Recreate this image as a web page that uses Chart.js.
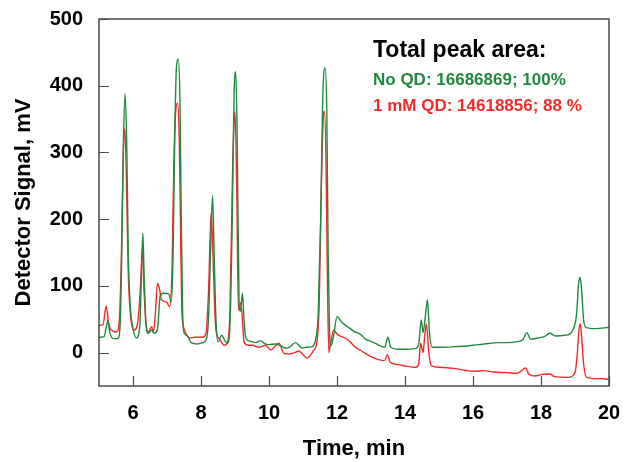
<!DOCTYPE html>
<html>
<head>
<meta charset="utf-8">
<script src="https://cdn.jsdelivr.net/npm/chart.js@4"></script>
<style>
  html, body { margin: 0; padding: 0; background: #fff; }
  #chart { display: block; }
</style>
</head>
<body>
<canvas id="chart" width="624" height="462"></canvas>
<script>
const noQdTime = [5.0, 5.15, 5.22, 5.26, 5.32, 5.42, 5.55, 5.62, 5.67, 5.72, 5.77, 5.82, 5.86, 5.92, 6.0, 6.1, 6.2, 6.25, 6.29, 6.33, 6.38, 6.45, 6.55, 6.62, 6.72, 6.8, 6.9, 7.05, 7.13, 7.18, 7.23, 7.28, 7.33, 7.38, 7.42, 7.46, 7.5, 7.6, 7.71, 7.9, 8.05, 8.15, 8.22, 8.28, 8.34, 8.39, 8.44, 8.5, 8.61, 8.7, 8.78, 8.85, 8.92, 8.97, 9.02, 9.06, 9.12, 9.16, 9.22, 9.27, 9.32, 9.45, 9.61, 9.75, 9.86, 10.0, 10.2, 10.35, 10.49, 10.6, 10.78, 10.97, 11.1, 11.27, 11.38, 11.45, 11.52, 11.58, 11.65, 11.7, 11.74, 11.78, 11.82, 11.9, 12.0, 12.15, 12.33, 12.5, 12.7, 12.85, 13.0, 13.2, 13.4, 13.5, 13.58, 13.8, 14.0, 14.3, 14.4, 14.48, 14.53, 14.6, 14.66, 14.72, 14.8, 15.0, 15.5, 15.84, 16.0, 16.33, 16.75, 17.0, 17.3, 17.48, 17.58, 17.7, 17.9, 18.1, 18.26, 18.42, 18.7, 18.95, 19.05, 19.1, 19.15, 19.2, 19.25, 19.32, 19.6, 20.0];
const noQdSignal = [23, 24, 40, 48, 30, 21, 21, 40, 150, 320, 388, 300, 150, 70, 36, 22, 40, 120, 179, 110, 45, 29, 34, 29, 35, 85, 89, 88, 76, 150, 330, 430, 440, 380, 200, 60, 30, 25, 15, 13, 15, 19, 50, 150, 236, 140, 50, 16, 26, 18, 14, 40, 200, 380, 421, 340, 75, 62, 89, 45, 22, 17, 15, 18, 14, 12, 13, 10, 7, 8, 15, 7, 8, 9, 22, 60, 200, 380, 427, 360, 150, 30, 10, 25, 54, 45, 38, 32, 27, 20, 17, 12, 8, 23, 8, 5, 5, 6, 12, 49, 30, 55, 79, 30, 8, 8, 9, 10, 11, 13, 15, 15, 16.5, 20, 30, 20, 22, 24, 29, 25, 26, 35, 60, 100, 113, 90, 50, 38, 36, 38];

const qdTime = [5.0, 5.12, 5.21, 5.28, 5.33, 5.52, 5.6, 5.66, 5.71, 5.76, 5.81, 5.86, 5.92, 6.04, 6.15, 6.22, 6.28, 6.32, 6.38, 6.45, 6.55, 6.6, 6.66, 6.72, 6.78, 6.84, 6.98, 7.08, 7.15, 7.2, 7.26, 7.31, 7.36, 7.4, 7.44, 7.5, 7.6, 7.66, 7.82, 8.05, 8.15, 8.22, 8.3, 8.35, 8.4, 8.44, 8.55, 8.69, 8.78, 8.85, 8.92, 8.97, 9.0, 9.05, 9.1, 9.15, 9.2, 9.27, 9.4, 9.51, 9.7, 9.9, 10.05, 10.29, 10.44, 10.63, 10.88, 11.12, 11.32, 11.41, 11.48, 11.54, 11.6, 11.63, 11.68, 11.72, 11.76, 11.8, 11.9, 12.0, 12.33, 12.5, 12.8, 13.0, 13.2, 13.4, 13.48, 13.56, 13.8, 14.0, 14.3, 14.4, 14.46, 14.53, 14.58, 14.63, 14.7, 14.78, 15.0, 15.5, 16.0, 16.3, 16.6, 17.0, 17.3, 17.55, 17.65, 17.84, 18.0, 18.26, 18.4, 18.8, 19.0, 19.07, 19.12, 19.16, 19.2, 19.26, 19.35, 19.7, 20.0];
const qdSignal = [41, 42, 70, 45, 36, 31, 50, 150, 290, 336, 250, 120, 60, 34, 49, 100, 158, 100, 45, 31, 39, 31, 60, 104, 95, 79, 76, 69, 130, 280, 365, 374, 320, 180, 60, 36, 25, 22, 23, 23, 30, 90, 210, 150, 70, 34, 20, 11, 16, 60, 250, 345, 361, 250, 64, 75, 62, 15, 11, 11, 8, 11, 4, 14, -1, -2, 2, -8, 4, 16, 80, 250, 355, 362, 280, 100, 0, 10, 34, 28, 19, 10, 0, -6, -10, -12, -3, -14, -18, -20, -22, -18, 14, 0, 25, 43, 0, -20, -22, -24, -28, -27, -29, -30, -31, -23, -33, -35, -33, -32, -36, -37, -30, 0, 35, 43, 20, -20, -37, -39, -40];

const xTicks = [6, 8, 10, 12, 14, 16, 18, 20];
const yTicks = [0, 100, 200, 300, 400, 500];

const legendTitle = 'Total peak area:';
const legendLines = ['No QD: 16686869; 100%', '1 mM QD: 14618856; 88 %'];

const green = '#1f8a3f';
const red = '#f42a2a';
const fontFamily = 'Liberation Sans, Arial, sans-serif';

const toPoints = (xs, ys) => xs.map((x, i) => ({ x: x, y: ys[i] }));

const framePlugin = {
  id: 'frame',
  afterDraw(chart) {
    const { ctx, chartArea: a, scales } = chart;
    ctx.save();
    ctx.strokeStyle = '#4a4a4a';
    ctx.lineWidth = 1.5;
    ctx.strokeRect(a.left, a.top, a.right - a.left, a.bottom - a.top);
    ctx.lineWidth = 1.2;
    ctx.beginPath();
    xTicks.forEach(v => {
      const px = Math.round(scales.x.getPixelForValue(v)) + 0.5;
      ctx.moveTo(px, a.bottom);
      ctx.lineTo(px, a.bottom - 10);
    });
    yTicks.forEach(v => {
      const py = Math.round(scales.y.getPixelForValue(v)) + 0.5;
      ctx.moveTo(a.left, py);
      ctx.lineTo(a.left + 10, py);
    });
    ctx.stroke();

    ctx.textBaseline = 'alphabetic';
    ctx.textAlign = 'left';
    ctx.fillStyle = '#000';
    ctx.font = 'bold 23px ' + fontFamily;
    ctx.fillText(legendTitle, 373, 57);
    ctx.font = 'bold 17px ' + fontFamily;
    ctx.fillStyle = green;
    ctx.fillText(legendLines[0], 373, 85);
    ctx.fillStyle = red;
    ctx.fillText(legendLines[1], 373, 111);
    ctx.restore();
  }
};

new Chart(document.getElementById('chart'), {
  type: 'scatter',
  data: {
    datasets: [
      {
        label: 'No QD',
        data: toPoints(noQdTime, noQdSignal),
        showLine: true,
        borderColor: green,
        borderWidth: 1.4,
        pointRadius: 0,
        cubicInterpolationMode: 'monotone'
      },
      {
        label: '1 mM QD',
        data: toPoints(qdTime, qdSignal),
        showLine: true,
        borderColor: red,
        borderWidth: 1.4,
        pointRadius: 0,
        cubicInterpolationMode: 'monotone'
      }
    ]
  },
  options: {
    responsive: false,
    animation: false,
    layout: { padding: { left: 7, right: 15, top: 19, bottom: 0 } },
    plugins: {
      legend: { display: false },
      tooltip: { enabled: false }
    },
    scales: {
      x: {
        type: 'linear',
        min: 5,
        max: 20,
        afterBuildTicks: axis => { axis.ticks = xTicks.map(v => ({ value: v })); },
        afterFit: axis => {
          axis.height = 76;
          axis.paddingLeft = 0;
          axis.paddingRight = 0;
        },
        grid: { display: false, drawTicks: false },
        border: { display: false },
        ticks: {
          padding: 15,
          color: '#000',
          font: { family: fontFamily, size: 20, weight: 'bold' }
        },
        title: {
          display: true,
          text: 'Time, min',
          color: '#000',
          padding: { top: 0, bottom: 0 },
          font: { family: fontFamily, size: 22, weight: 'bold' }
        }
      },
      y: {
        type: 'linear',
        min: -50,
        max: 500,
        afterBuildTicks: axis => { axis.ticks = yTicks.map(v => ({ value: v })); },
        afterFit: axis => {
          axis.width = 92;
          axis.paddingTop = 0;
          axis.paddingBottom = 0;
        },
        grid: { display: false, drawTicks: false },
        border: { display: false },
        ticks: {
          padding: 16,
          color: '#000',
          font: { family: fontFamily, size: 20, weight: 'bold' }
        },
        title: {
          display: true,
          text: 'Detector Signal, mV',
          color: '#000',
          padding: { top: 4, bottom: 4 },
          font: { family: fontFamily, size: 22, weight: 'bold' }
        }
      }
    }
  },
  plugins: [framePlugin]
});
</script>
</body>
</html>
